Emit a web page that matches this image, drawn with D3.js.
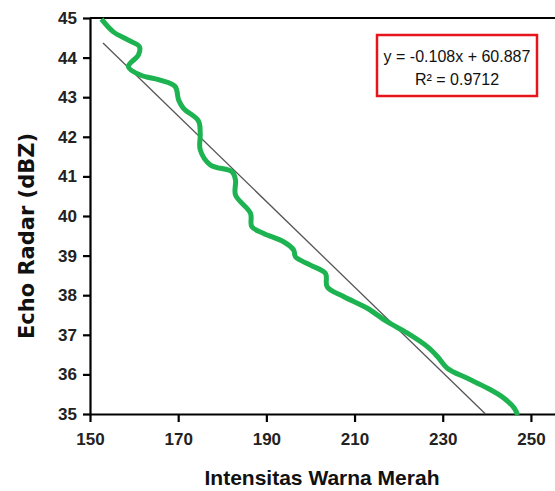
<!DOCTYPE html>
<html>
<head>
<meta charset="utf-8">
<script src="https://cdn.jsdelivr.net/npm/d3@7"></script>
<style>
  body { margin: 0; background: #fff; }
  svg { display: block; }
</style>
</head>
<body>
<svg id="chart" width="555" height="491"></svg>
<script>
// data
const intensitas = [152.6, 155.3, 158.7, 161.2, 161.0, 158.7, 161.4, 165.9, 169.3, 170.1,
  171.2, 174.6, 175.0, 175.0, 177.3, 182.2, 183.0, 183.0, 186.4, 186.7,
  189.4, 193.9, 196.2, 196.6, 200.0, 203.4, 203.8, 207.6, 212.9, 217.4,
  222.0, 226.5, 228.8, 231.1, 235.6, 240.2, 243.9, 246.2, 247.0];
const echo = [44.97, 44.65, 44.44, 44.28, 44.07, 43.77, 43.56, 43.43, 43.27, 42.93,
  42.72, 42.40, 42.09, 41.67, 41.29, 41.12, 40.91, 40.53, 40.07, 39.73,
  39.56, 39.35, 39.14, 38.97, 38.76, 38.55, 38.21, 37.96, 37.67, 37.33,
  37.04, 36.70, 36.45, 36.15, 35.90, 35.65, 35.40, 35.15, 34.97];
const xTicks = [150, 170, 190, 210, 230, 250];
const yTicks = [35, 36, 37, 38, 39, 40, 41, 42, 43, 44, 45];
const slope = -0.108;
const intercept = 60.887;
const trendX = [152.95, 239.7];
const eqLines = ['y = -0.108x + 60.887', 'R² = 0.9712'];

const svg = d3.select('#chart');
const sans = '"Liberation Sans", Arial, sans-serif';

const margin = { top: 18, left: 90 };
const innerWidth = 485;
const innerHeight = 396;

const g = svg.append('g')
  .attr('transform', `translate(${margin.left}, ${margin.top})`);

const xScale = d3.scaleLinear().domain([150, 260]).range([0, innerWidth]);
const yScale = d3.scaleLinear().domain([35, 45]).range([innerHeight, 0]);

const axisConfig = AxisG => {
  AxisG.selectAll('.domain').attr('stroke', '#000').attr('stroke-width', 2.2);
  AxisG.selectAll('line').attr('stroke', '#000').attr('stroke-width', 2.2);
  AxisG.selectAll('text')
    .attr('font-family', sans)
    .attr('font-weight', 'bold')
    .attr('font-size', 17)
    .attr('fill', '#222');
};

// top border of the plot box
g.append('line')
  .attr('x1', 0).attr('x2', innerWidth)
  .attr('y1', 0).attr('y2', 0)
  .attr('stroke', '#000').attr('stroke-width', 2.2);

const xAxis = d3.axisBottom(xScale)
  .tickValues(xTicks)
  .tickSize(8)
  .tickSizeOuter(0)
  .tickPadding(11);
g.append('g')
  .attr('transform', `translate(0, ${innerHeight})`)
  .call(xAxis)
  .call(axisConfig);

const yAxis = d3.axisLeft(yScale)
  .tickValues(yTicks)
  .tickSize(7)
  .tickSizeOuter(0)
  .tickPadding(6);
g.append('g')
  .call(yAxis)
  .call(axisConfig);

// linear trendline
const line = d3.line()
  .x(d => xScale(d[0]))
  .y(d => yScale(d[1]));

g.append('path')
  .datum(trendX.map(x => [x, slope * x + intercept]))
  .attr('d', line)
  .attr('fill', 'none')
  .attr('stroke', '#555')
  .attr('stroke-width', 1.3);

// measured curve
const curve = d3.line()
  .x(d => xScale(d[0]))
  .y(d => yScale(d[1]))
  .curve(d3.curveCatmullRom.alpha(0.5));

g.append('path')
  .datum(intensitas.map((x, i) => [x, echo[i]]))
  .attr('d', curve)
  .attr('fill', 'none')
  .attr('stroke', '#1db350')
  .attr('stroke-width', 5)
  .attr('stroke-linejoin', 'round')
  .attr('stroke-linecap', 'butt');

// equation box
svg.append('rect')
  .attr('x', 377).attr('y', 35)
  .attr('width', 160).attr('height', 61)
  .attr('fill', '#fff')
  .attr('stroke', '#e8141b')
  .attr('stroke-width', 2.5);

svg.selectAll('.eq').data(eqLines)
  .enter().append('text')
    .attr('class', 'eq')
    .attr('x', 457)
    .attr('y', (d, i) => 62 + i * 23)
    .attr('text-anchor', 'middle')
    .attr('font-family', sans)
    .attr('font-size', 16)
    .attr('fill', '#111')
    .text(d => d);

// axis titles
svg.append('text')
  .attr('x', 322)
  .attr('y', 485)
  .attr('text-anchor', 'middle')
  .attr('font-family', sans)
  .attr('font-weight', 'bold')
  .attr('font-size', 21)
  .attr('fill', '#111')
  .text('Intensitas Warna Merah');

svg.append('text')
  .attr('transform', 'translate(34, 236) rotate(-90)')
  .attr('text-anchor', 'middle')
  .attr('font-family', '"DejaVu Sans", Verdana, sans-serif')
  .attr('font-weight', 'bold')
  .attr('font-size', 21)
  .attr('fill', '#111')
  .text('Echo Radar (dBZ)');
</script>
</body>
</html>
